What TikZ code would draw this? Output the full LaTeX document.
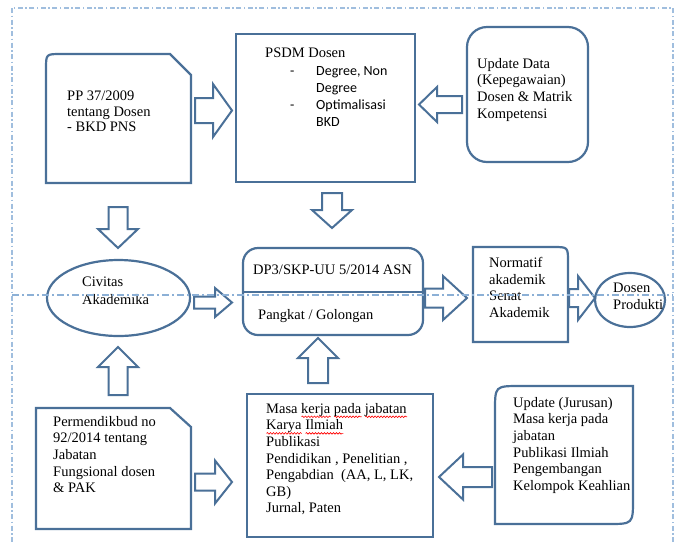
\documentclass[tikz,border=0pt]{standalone}
\usepackage{fontspec}
\setmainfont{Liberation Serif}
\newfontfamily\calibrifont{Carlito}
\usetikzlibrary{calc,decorations.pathmorphing}
\definecolor{sb}{RGB}{74,112,152}
\definecolor{fr}{RGB}{160,190,222}
\definecolor{fl}{RGB}{140,176,214}
\newlength\rwl
\newcommand\redwave[1]{\settowidth\rwl{#1}\rlap{\tikz[baseline=0pt,x=1pt,y=1pt]\draw[red,line width=0.6pt,decorate,decoration={snake,amplitude=0.8pt,segment length=3pt}] (0,-3.5) -- (\rwl,-3.5);}#1}
\tikzset{
  boxsty/.style={draw=sb, line width=2.2pt, fill=white},
  barrow/.style={draw=sb, line width=2pt, fill=white, line join=miter},
  txt/.style={inner sep=0pt, anchor=north west, align=left, text=black,
    font=\fontsize{14.5}{16.6}\selectfont},
  framesty/.style={draw=fr, line width=1.5pt, dash pattern=on 5pt off 2.5pt on 1.5pt off 2.5pt},
  midline/.style={draw=fl, line width=1.3pt, dash pattern=on 7pt off 3pt on 2pt off 3pt}
}
\newcommand\blkarrow[6]{\draw[barrow,shift={#1},rotate=#2] (0,-#5) -- ({#3-#4},-#5) -- ({#3-#4},-#6) -- (#3,0) -- ({#3-#4},#6) -- ({#3-#4},#5) -- (0,#5) -- cycle;}
\begin{document}
\begin{tikzpicture}[x=1pt,y=-1pt]
\useasboundingbox (0,0) rectangle (682,542);
\clip (0,0) rectangle (682,542);
\fill[white] (0,0) rectangle (682,542);

% boxes
\draw[boxsty] (46,183) -- (46,69) .. controls (46,54) .. (61,54) -- (170,54) -- (191,75) -- (191,183) -- cycle;
\draw[boxsty] (236,34) rectangle (415,182);
\draw[boxsty, rounded corners=20pt] (467,27) rectangle (588,162);
\draw[boxsty] (118.5,298) ellipse [x radius=71.5, y radius=38];
\draw[boxsty, rounded corners=15pt] (243,248) rectangle (423,335);
\coordinate (dpl) at (243,292);
\coordinate (dpr) at (423,292);
\draw[draw=sb, line width=1.6pt] (dpl) -- (dpr);
\draw[boxsty] (473,342) -- (473,247) -- (553,247) .. controls (568,247) .. (568,262) -- (568,342) -- cycle;
\draw[boxsty] (630,300) ellipse [x radius=35, y radius=27];
\draw[boxsty] (36,529) -- (36,408) -- (170,408) -- (191,427) -- (191,529) -- cycle;
\draw[boxsty] (247,394) rectangle (433,537);
\draw[boxsty] (495,524) -- (495,411) .. controls (495,386) .. (520,386) -- (633,386) -- (633,499) .. controls (633,524) .. (608,524) -- cycle;

% block arrows
\blkarrow{(195,110.5)}{0}{37}{19}{12.5}{26.5}
\blkarrow{(462,104.5)}{180}{43}{18}{8.5}{17.5}
\blkarrow{(332,193)}{-90}{35}{18}{10}{20}
\blkarrow{(118,207)}{-90}{41}{19}{9.5}{20}
\blkarrow{(194,302.5)}{0}{38}{17}{6}{14.5}
\blkarrow{(425,298)}{0}{42}{24}{9.5}{22}
\blkarrow{(569,298)}{0}{26}{17}{9}{22}
\blkarrow{(118,395)}{90}{48}{20}{9.5}{20}
\blkarrow{(318,383)}{90}{45}{20}{10}{20}
\blkarrow{(195,482)}{0}{37}{17}{8.5}{21.5}
\blkarrow{(492,477)}{180}{53}{24}{10}{22.5}

% texts
\node[txt, font=\fontsize{14.5}{15.5}\selectfont] (pp) at (67,91) {PP 37/2009\\tentang Dosen\\- BKD PNS};
\node[txt] (psdm) at (265,48) {PSDM Dosen};
\node[txt, font=\calibrifont\fontsize{14}{17}\selectfont] (psdml) at (290,63)
  {\begin{tabular}{@{}p{26pt}@{}l@{}}-&Degree, Non\\ &Degree\\ -&Optimalisasi\\ &BKD\end{tabular}};
\node[txt] (upd) at (477,58) {Update Data\\(Kepegawaian)\\Dosen \& Matrik\\Kompetensi};
\node[txt, font=\fontsize{14.5}{18}\selectfont] (civ) at (82,277) {Civitas\\Akademika};
\node[txt] (dp3) at (253,265) {DP3/SKP-UU 5/2014 ASN};
\node[txt] (pg) at (258,309) {Pangkat / Golongan};
\node[txt] (norm) at (489,257) {Normatif\\akademik\\Senat\\Akademik};
\node[txt, font=\fontsize{14.5}{17}\selectfont] (dos) at (613,283) {Dosen\\Produkti};
\node[txt] (perm) at (53,416) {Permendikbud no\\92/2014 tentang\\Jabatan\\Fungsional dosen\\\& PAK};
\node[txt] (masa) at (266,403) {Masa \redwave{kerja} \redwave{pada} \redwave{jabatan}\\\redwave{Karya} \redwave{Ilmiah}\\Publikasi\\Pendidikan , Penelitian ,\\Pengabdian\ \ (AA, L, LK,\\GB)\\Jurnal, Paten};
\node[txt] (jur) at (513,397) {Update (Jurusan)\\Masa kerja pada\\jabatan\\Publikasi Ilmiah\\Pengembangan\\Kelompok Keahlian};

% guide lines
\coordinate (ml) at (12,295);
\coordinate (mr) at (673,295);
\draw[midline] (ml) -- (mr);
\draw[framesty] (12,8) rectangle (673,600);
\end{tikzpicture}
\end{document}
